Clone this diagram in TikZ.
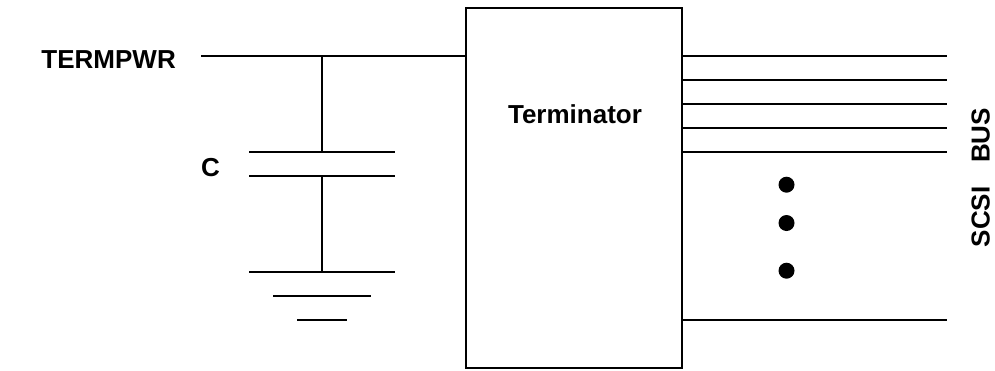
\documentclass[tikz,border=0pt]{standalone}
\usepackage{fontspec}
\setmainfont{Liberation Sans}
\usetikzlibrary{positioning}
\tikzset{lbl/.style={font=\fontsize{26}{30}\selectfont\bfseries, inner sep=0pt},
	wire/.style={line width=2pt},
	busdot/.style={circle, fill=black, inner sep=0pt, minimum size=16pt}}
\begin{document}
\begin{tikzpicture}[x=1pt,y=-1pt]
		\useasboundingbox (0,0) rectangle (995,370);
		\node[draw, wire, minimum width=216pt, minimum height=360pt, inner sep=0pt] (term) at (574,188) {};
		\node[lbl] (termlabel) at (575,114) {Terminator};
		\node[lbl, anchor=east] (pwr) at (176,60) {TERMPWR};
		\node[lbl, anchor=east] (clabel) at (220,168) {C};
		\node[lbl, rotate=90] (bus) at (980.7,177.5) {SCSI\hspace{0.91em}BUS};
		% power line and capacitor
		\coordinate (pwrstart) at (201,56);
		\coordinate (pwrin) at (term.west |- pwrstart);
		\coordinate (join) at (322,56);
		\coordinate (platetop) at (322,152);
		\coordinate (platebot) at (322,176);
		\coordinate (gndtop) at (322,272);
		\draw[wire] (pwrstart) -- (pwrin);
		\draw[wire] (join) -- (platetop);
		\draw[wire] (platebot) -- (gndtop);
		\draw[wire] (249,152) -- (395,152);
		\draw[wire] (249,176) -- (395,176);
		\draw[wire] (249,272) -- (395,272);
		\draw[wire] (273,296) -- (371,296);
		\draw[wire] (297,320) -- (347,320);
		% bus lines
		\foreach \y in {56,80,104,128,152,320}
			\draw[wire] (term.east |- 0,\y) -- (947,\y);
		\node[busdot] (dota) at (786.5,184.7) {};
		\node[busdot] (dotb) at (786.5,223) {};
		\node[busdot] (dotc) at (786.5,270.7) {};
\end{tikzpicture}
\end{document}
